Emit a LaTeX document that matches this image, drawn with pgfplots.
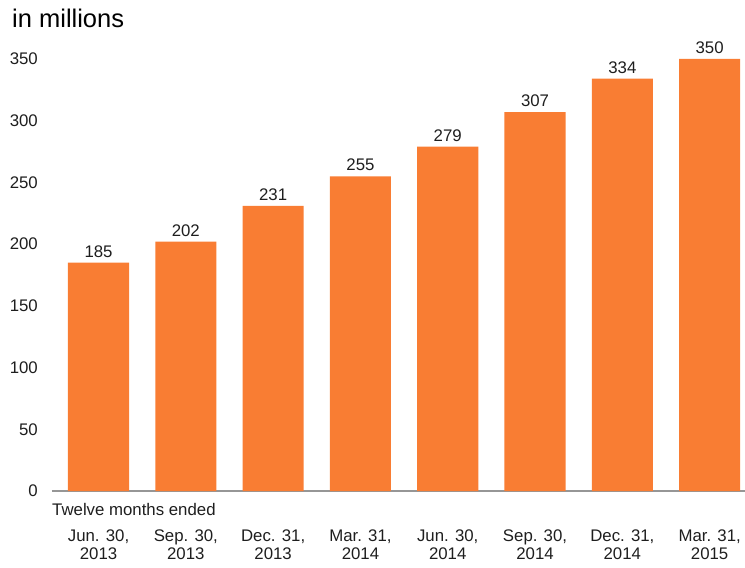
\documentclass[border=0pt]{standalone}
\usepackage{pgfplots}
\pgfplotsset{compat=1.18}
\usepackage{fontspec}
\setmainfont{Liberation Sans}
\usetikzlibrary{calc}
\definecolor{barorange}{RGB}{249,125,51}
\definecolor{axisgray}{RGB}{150,150,150}
\definecolor{txt}{RGB}{30,30,30}
\begin{document}
\begin{tikzpicture}
\begin{axis}[
  scale only axis,
  width=693pt, height=432pt,
  xmin=-0.533, xmax=7.405,
  ymin=0, ymax=350,
  clip=false,
  axis x line=bottom,
  axis y line=left,
  y axis line style={draw=none},
  x axis line style={draw=axisgray, line width=1.6pt, -},
  major tick length=0pt,
  xtick={0,...,7},
  xticklabels={{Jun. 30,\\2013},{Sep. 30,\\2013},{Dec. 31,\\2013},{Mar. 31,\\2014},{Jun. 30,\\2014},{Sep. 30,\\2014},{Dec. 31,\\2014},{Mar. 31,\\2015}},
  xticklabel style={align=center, font=\fontsize{16.8}{18.5}\selectfont, text=txt, anchor=north, yshift=-35pt},
  ytick={0,50,...,350},
  yticklabel style={anchor=east, inner sep=0pt, xshift=-14pt, font=\fontsize{16.8}{18}\selectfont, text=txt},
  /pgf/number format/assume math mode=true,
  /pgf/number format/1000 sep={},
  ]
  \addplot[ybar, bar width=0.7, fill=barorange, draw=none,
    nodes near coords,
    nodes near coords style={font=\fontsize{16.8}{18}\selectfont, text=txt, inner sep=5pt}]
    coordinates {(0,185) (1,202) (2,231) (3,255) (4,279) (5,307) (6,334) (7,350)};
  \node[anchor=north west, font=\fontsize{16.8}{18}\selectfont, text=txt, inner sep=0pt, yshift=-12pt] at (axis cs:-0.533,0) {Twelve months ended};
  \node[anchor=base west, font=\fontsize{25.5}{28}\selectfont, text=black, inner sep=0pt, xshift=-40pt, yshift=31pt] at (axis cs:-0.533,350) {in millions};
\end{axis}
\pgfresetboundingbox
\path ($(current axis.south west)+(-52pt,-77pt)$) rectangle ($(current axis.north east)+(0pt,59pt)$);
\end{tikzpicture}
\end{document}
